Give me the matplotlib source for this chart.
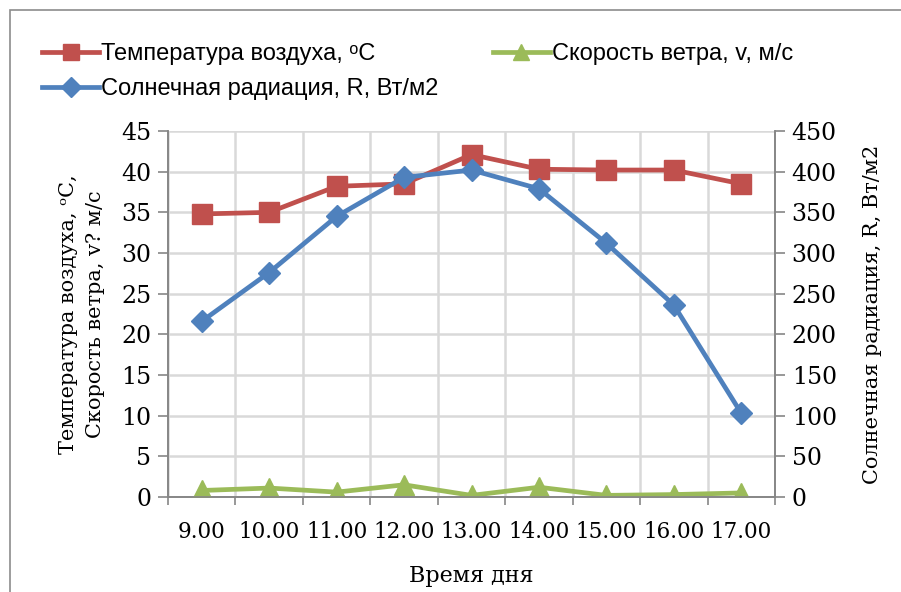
import matplotlib
matplotlib.use("Agg")
import matplotlib.pyplot as plt
from matplotlib.patches import Rectangle

# data
hours = ["9.00", "10.00", "11.00", "12.00", "13.00", "14.00", "15.00", "16.00", "17.00"]
temp = [34.8, 35.0, 38.2, 38.5, 42.1, 40.3, 40.2, 40.2, 38.5]
wind = [0.8, 1.1, 0.6, 1.5, 0.2, 1.2, 0.2, 0.3, 0.5]
radiation = [216, 276, 345, 393, 402, 379, 312, 236, 103]

RED = "#C0504D"
BLUE = "#4F81BD"
GREEN = "#9BBB59"
GRID = "#D9D9D9"
AXIS = "#868686"

serif = ["DejaVu Serif"]
sans = ["Liberation Sans Narrow", "Liberation Sans", "DejaVu Sans"]

fig = plt.figure(figsize=(9.01, 5.92), dpi=100)
fig.patches.append(Rectangle((10 / 901, -0.05), 1.0, 1.05 - 10 / 592,
                             transform=fig.transFigure, fill=False,
                             edgecolor="#8C8C8C", linewidth=1.2))

ax = fig.add_axes([168 / 901, 1 - 497 / 592, (775 - 168) / 901, (497 - 131) / 592])
ax2 = ax.twinx()

x = list(range(len(hours)))

l1, = ax.plot(x, temp, color=RED, lw=3.4, marker="s", ms=14, mec=RED, mfc=RED,
              label="Температура воздуха, ᵒС", zorder=3)
l3, = ax.plot(x, wind, color=GREEN, lw=3.4, marker="^", ms=14, mec=GREEN, mfc=GREEN,
              label="Скорость ветра, v, м/с", zorder=3)
l2, = ax2.plot(x, radiation, color=BLUE, lw=3.4, marker="D", ms=11.5, mec=BLUE, mfc=BLUE,
               label="Солнечная радиация, R, Вт/м2", zorder=3)

ax.set_xlim(-0.5, len(hours) - 0.5)
ax.set_ylim(0, 45)
ax2.set_ylim(0, 450)
ax.set_yticks(range(0, 46, 5))
ax2.set_yticks(range(0, 451, 50))

ax.set_xticks(x)
ax.set_xticklabels(hours)
ax.set_xticks([i - 0.5 for i in range(len(hours) + 1)], minor=True)
ax.tick_params(axis="x", which="major", length=0, pad=17)
ax.tick_params(axis="x", which="minor", length=6, color=AXIS, width=1.2)

ax.grid(True, axis="y", color=GRID, lw=1.8)
ax.grid(True, axis="x", which="minor", color=GRID, lw=1.8)
ax.set_axisbelow(True)

for a in (ax, ax2):
    a.spines["top"].set_visible(False)
    for s in ("left", "right", "bottom"):
        a.spines[s].set_color(AXIS)
        a.spines[s].set_linewidth(1.2)
    a.tick_params(axis="y", length=7, color=AXIS, width=1.2, pad=5)

for lab in ax.get_xticklabels():
    lab.set_fontfamily(serif)
    lab.set_fontsize(15.5)
for lab in ax.get_yticklabels() + ax2.get_yticklabels():
    lab.set_fontfamily(serif)
    lab.set_fontsize(17)

ax.set_xlabel("Время дня", fontfamily=serif, fontsize=16, labelpad=16)
ax.set_ylabel("Температура воздуха, ᵒС,\nСкорость ветра, v? м/с", fontfamily=serif,
              fontsize=15, linespacing=1.5, labelpad=12)
ax2.set_ylabel("Солнечная радиация, R, Вт/м2", fontfamily=serif, fontsize=15, labelpad=19)

fig.legend(handles=[l1, l2, l3], ncol=2, loc="upper left",
           bbox_to_anchor=(21 / 901, 1 - 22 / 592), frameon=False,
           prop={"family": sans, "size": 17}, handlelength=2.4,
           handletextpad=0.1, columnspacing=2.3, labelspacing=0.55,
           markerscale=0.85)

fig.savefig("out.png", dpi=100)
